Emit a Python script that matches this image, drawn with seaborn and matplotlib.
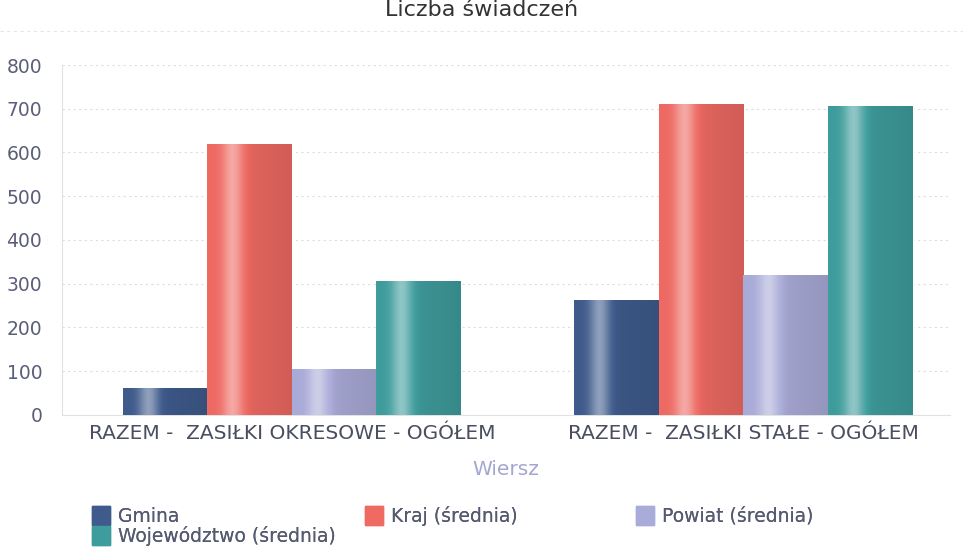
import matplotlib

matplotlib.use("Agg")
import matplotlib.pyplot as plt
import matplotlib.colors as mcolors
import numpy as np
import pandas as pd
import seaborn as sns

# values
categories = ["RAZEM -  ZASIŁKI OKRESOWE - OGÓŁEM", "RAZEM -  ZASIŁKI STAŁE - OGÓŁEM"]
series = ["Gmina", "Kraj (średnia)", "Powiat (średnia)", "Województwo (średnia)"]
gmina = [60, 262]
kraj = [618, 710]
powiat = [104, 318]
wojewodztwo = [305, 705]
colors = ["#3f5b8c", "#ee6a63", "#a9abd8", "#3f9c9c"]

df = pd.DataFrame(
    {
        "wiersz": categories * 4,
        "seria": [s for s in series for _ in categories],
        "value": gmina + kraj + powiat + wojewodztwo,
    }
)

sns.set_theme(style="white")
plt.rcParams["font.family"] = ["DejaVu Sans"]

fig = plt.figure(figsize=(9.63, 5.56), dpi=100)
ax = fig.add_axes([0.064, 0.254, 0.923, 0.629])

sns.barplot(
    data=df, x="wiersz", y="value", hue="seria", palette=colors,
    width=0.75, gap=0, saturation=1, legend=False, ax=ax, zorder=2,
)

# cylinder-like shading on each bar
profile = np.linspace(0, 1, 64)
light = np.exp(-((profile - 0.3) / 0.12) ** 2) * 0.45 - profile * 0.12
for patch, color in zip(ax.patches, [c for c in colors for _ in categories]):
    x, w, h = patch.get_x(), patch.get_width(), patch.get_height()
    if h <= 0:
        continue
    base = np.array(mcolors.to_rgb(color))
    rgb = np.clip(base + light[:, None] * (1 - base) * (light[:, None] > 0)
                  + light[:, None] * base * (light[:, None] < 0), 0, 1)
    ax.imshow(rgb[None, :, :], extent=[x, x + w, 0, h], aspect="auto",
              zorder=3, interpolation="bicubic")

ax.set_xlim(-0.51, 1.459)
ax.set_ylim(0, 800)
ax.set_yticks(range(0, 801, 100))
ax.grid(axis="y", color="#dddddd", linestyle=(0, (2, 3)), linewidth=0.8, zorder=0)
for side in ["top", "right"]:
    ax.spines[side].set_visible(False)
for side in ["left", "bottom"]:
    ax.spines[side].set_color("#e2e2e2")
    ax.spines[side].set_linewidth(0.8)
ax.tick_params(axis="y", labelsize=13.5, colors="#5a5e78", length=0, pad=14)
ax.tick_params(axis="x", labelsize=14.5, colors="#4a4e60", length=0, pad=7)
ax.set_ylabel("")
ax.set_xlabel("Wiersz", fontsize=14.5, color="#a3a6d2", labelpad=12)

fig.text(0.5, 1.0, "Liczba świadczeń", ha="center", va="top",
         fontsize=16, color="#333333")
fig.add_artist(plt.Line2D([0.0, 1.0], [0.945, 0.945], color="#e6e6e6",
                          linestyle=(0, (3, 3)), linewidth=0.8))

# legend: three fixed-width columns as in the reference
handles = {s: plt.Rectangle((0, 0), 1, 1, color=c) for s, c in zip(series, colors)}
legend_cols = [
    (["Gmina", "Województwo (średnia)"], 92),
    (["Kraj (średnia)"], 365),
    (["Powiat (średnia)"], 636),
]
for labels, xpix in legend_cols:
    leg = fig.legend(
        [handles[s] for s in labels], labels,
        loc="upper left", bbox_to_anchor=(xpix / 963, 1 - 506 / 556),
        borderaxespad=0, borderpad=0, frameon=False, fontsize=13.5,
        handlelength=0.95, handleheight=1.15, handletextpad=0.45,
        labelspacing=0.0, labelcolor="#555a70",
    )
    fig.add_artist(leg)

fig.savefig("out.png", dpi=100)
plt.close(fig)
